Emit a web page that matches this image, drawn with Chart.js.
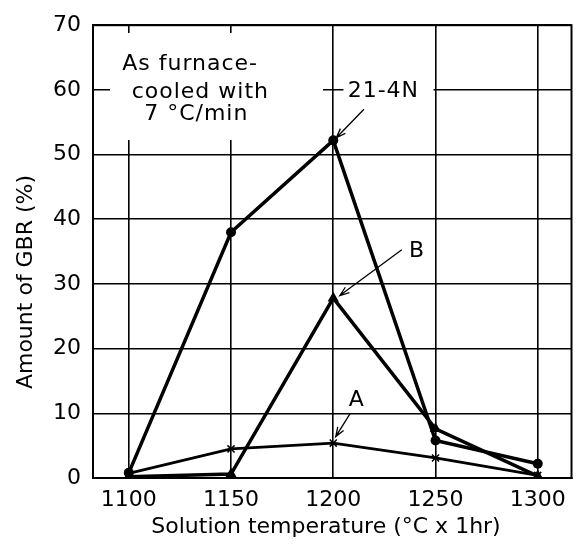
<!DOCTYPE html>
<html>
<head>
<meta charset="utf-8">
<script src="https://cdn.jsdelivr.net/npm/chart.js@4/dist/chart.umd.min.js"></script>
<style>
  html, body { margin: 0; padding: 0; background: #fff; }
  canvas { display: block; }
</style>
</head>
<body>
<canvas id="gbrChart" width="578" height="549"></canvas>
<script>
// Solution temperature (°C x 1hr)
const temps = [1100, 1150, 1200, 1250, 1300];
// Amount of GBR (%) per alloy
const gbr214N = [0.8, 38, 52.2, 5.8, 2.2];
const gbrB = [0.2, 0.6, 27.8, 7.6, 0.3];
const gbrA = [0.7, 4.5, 5.4, 3.1, 0.4];
// axis ticks
const xTicks = [1100, 1150, 1200, 1250, 1300];
const yTicks = [0, 10, 20, 30, 40, 50, 60, 70];

const FONT = 'DejaVu Sans';
const toPts = arr => temps.map((t, i) => ({ x: t, y: arr[i] }));

function arrow(ctx, x1, y1, x2, y2) {
  const a = Math.atan2(y2 - y1, x2 - x1);
  ctx.beginPath();
  ctx.moveTo(x1, y1);
  ctx.lineTo(x2, y2);
  ctx.moveTo(x2 - 10 * Math.cos(a - 0.35), y2 - 10 * Math.sin(a - 0.35));
  ctx.lineTo(x2, y2);
  ctx.lineTo(x2 - 10 * Math.cos(a + 0.35), y2 - 10 * Math.sin(a + 0.35));
  ctx.stroke();
}

// white gaps in the grid behind the labels, plus the frame
const backPlugin = {
  id: 'back',
  beforeDatasetsDraw(chart) {
    const { ctx, chartArea: ca } = chart;
    const x = chart.scales.x, y = chart.scales.y;
    ctx.save();
    ctx.fillStyle = '#fff';
    ctx.fillRect(110, 33, 213, 107);
    ctx.fillRect(x.getPixelForValue(1205), y.getPixelForValue(61.5), 90, 22);
    ctx.strokeStyle = '#000';
    ctx.lineWidth = 2;
    ctx.strokeRect(ca.left, ca.top, ca.right - ca.left, ca.bottom - ca.top);
    ctx.restore();
  },
  afterDraw(chart) {
    const { ctx } = chart;
    const x = chart.scales.x, y = chart.scales.y;
    const px = v => x.getPixelForValue(v), py = v => y.getPixelForValue(v);
    ctx.save();
    ctx.fillStyle = '#000';
    ctx.strokeStyle = '#000';
    ctx.font = '22px "' + FONT + '"';
    ctx.letterSpacing = '1px';
    ctx.textAlign = 'center';
    ctx.textBaseline = 'middle';
    ctx.fillText('As furnace-', px(1130), py(63.9));
    ctx.fillText('cooled with', px(1135), py(59.7));
    ctx.fillText('7 °C/min', px(1133), py(56.2));
    ctx.fillText('21-4N', px(1224.5), py(59.8));
    ctx.fillText('B', px(1241), py(35));
    ctx.fillText('A', px(1211.5), py(12));
    ctx.lineWidth = 1.3;
    arrow(ctx, px(1215), py(57), px(1201.5), py(52.6));
    arrow(ctx, px(1233.5), py(35.3), px(1203.2), py(28.2));
    arrow(ctx, px(1208.3), py(10), px(1201.2), py(6.4));
    // axis titles
    ctx.letterSpacing = '0px';
    ctx.fillText('Solution temperature (°C x 1hr)', 326, 527);
    ctx.translate(26, 282);
    ctx.rotate(-Math.PI / 2);
    ctx.fillText('Amount of GBR (%)', 0, 0);
    ctx.restore();
  }
};

new Chart(document.getElementById('gbrChart'), {
  type: 'line',
  data: {
    datasets: [
      {
        label: '21-4N', data: toPts(gbr214N),
        borderColor: '#000', backgroundColor: '#000', borderWidth: 3.5,
        pointStyle: 'circle', pointRadius: 5, pointBorderWidth: 0
      },
      {
        label: 'B', data: toPts(gbrB),
        borderColor: '#000', backgroundColor: '#000', borderWidth: 3.5,
        pointStyle: 'triangle', pointRadius: 6.5, pointBorderWidth: 0
      },
      {
        label: 'A', data: toPts(gbrA),
        borderColor: '#000', backgroundColor: '#000', borderWidth: 2.8,
        pointStyle: 'crossRot', pointRadius: 5, pointBorderWidth: 1.5
      }
    ]
  },
  options: {
    responsive: false,
    devicePixelRatio: 1,
    animation: false,
    layout: { padding: { left: 0, right: 3, top: 22, bottom: 0 } },
    plugins: { legend: { display: false }, tooltip: { enabled: false } },
    scales: {
      x: {
        type: 'linear', min: 1082.5, max: 1316.5,
        afterBuildTicks: s => { s.ticks = xTicks.map(v => ({ value: v })); },
        afterFit: s => { s.height = 71; },
        ticks: {
          color: '#000', padding: 9, font: { family: FONT, size: 22 },
          callback: v => String(v)
        },
        grid: { color: '#000', lineWidth: 1.6, drawTicks: false },
        border: { color: '#000', width: 2 }
      },
      y: {
        min: 0, max: 70,
        afterBuildTicks: s => { s.ticks = yTicks.map(v => ({ value: v })); },
        afterFit: s => { s.width = 93; },
        ticks: {
          color: '#000', padding: 12, font: { family: FONT, size: 22 },
          callback: v => String(v)
        },
        grid: { color: '#000', lineWidth: 1.6, drawTicks: false },
        border: { color: '#000', width: 2 }
      }
    }
  },
  plugins: [backPlugin]
});
</script>
</body>
</html>
